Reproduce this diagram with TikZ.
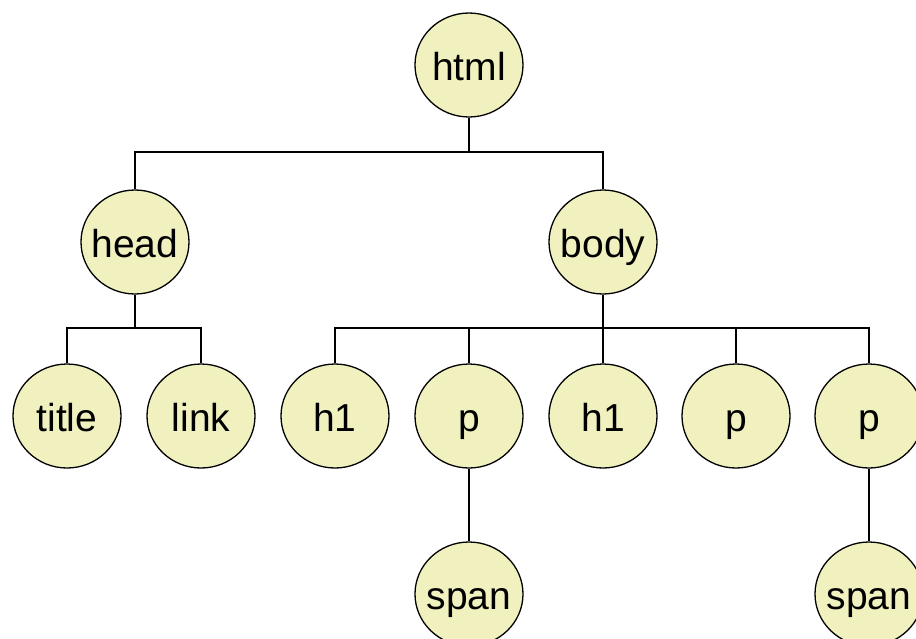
\documentclass[tikz,border=0pt]{standalone}
\usepackage{fontspec}
\setmainfont{Liberation Sans}
\usetikzlibrary{shapes.geometric}
\definecolor{nodefill}{RGB}{241,241,192}
\tikzset{
  tag/.style={ellipse, draw=black, line width=1.3pt, fill=nodefill, minimum width=108pt, minimum height=104pt, inner sep=0pt,
    text height=30pt, text depth=0pt, font=\fontsize{39}{39}\selectfont},
  link/.style={line width=1.3pt, draw=black}
}
\newcommand{\lbl}[1]{\makebox[0pt]{#1}}
\begin{document}
\begin{tikzpicture}[x=1pt,y=-1pt]
\useasboundingbox (0,0) rectangle (916,638);
\node[tag] (html) at (469,65) {\lbl{html}};
\node[tag] (head) at (135,242) {\lbl{head}};
\node[tag] (body) at (603,242) {\lbl{body}};
\node[tag] (title) at (67,416) {\lbl{title}};
\node[tag] (link) at (201,416) {\lbl{link}};
\node[tag] (h1a) at (335,416) {\lbl{h1}};
\node[tag] (pa) at (469,416) {\lbl{p}};
\node[tag] (h1b) at (603,416) {\lbl{h1}};
\node[tag] (pb) at (736,416) {\lbl{p}};
\node[tag] (pc) at (869,416) {\lbl{p}};
\node[tag] (spana) at (469,594) {\lbl{span}};
\node[tag] (spanb) at (869,594) {\lbl{span}};
\coordinate (b0) at (469,152);
\coordinate (b1) at (135,328);
\coordinate (b2) at (603,328);
\draw[link] (html.south) -- (b0);
\draw[link] (head.north) |- (b0) -| (body.north);
\draw[link] (head.south) -- (b1);
\draw[link] (title.north) |- (b1) -| (link.north);
\draw[link] (body.south) -- (b2);
\draw[link] (h1a.north) |- (b2) -| (pc.north);
\draw[link] (pa.north) -- (pa.north |- b2);
\draw[link] (h1b.north) -- (h1b.north |- b2);
\draw[link] (pb.north) -- (pb.north |- b2);
\draw[link] (pa.south) -- (spana.north);
\draw[link] (pc.south) -- (spanb.north);
\end{tikzpicture}
\end{document}
